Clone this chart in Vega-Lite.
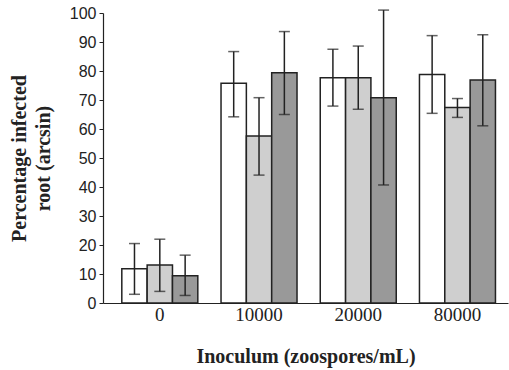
{
  "$schema": "https://vega.github.io/schema/vega-lite/v6.json",
  "width": 405,
  "height": 290,
  "autosize": {"type": "none"},
  "padding": {"left": 103, "top": 13, "right": 1, "bottom": 67},
  "background": "white",
  "config": {"view": {"stroke": null}},
  "data": {"values": [
    {"inoculum": "0", "s": "A", "mean": 11.8, "lo": 3.0, "hi": 20.5},
    {"inoculum": "0", "s": "B", "mean": 13.1, "lo": 4.0, "hi": 22.0},
    {"inoculum": "0", "s": "C", "mean": 9.4, "lo": 2.6, "hi": 16.5},
    {"inoculum": "10000", "s": "A", "mean": 75.8, "lo": 64.2, "hi": 86.7},
    {"inoculum": "10000", "s": "B", "mean": 57.6, "lo": 44.1, "hi": 70.8},
    {"inoculum": "10000", "s": "C", "mean": 79.4, "lo": 65.0, "hi": 93.6},
    {"inoculum": "20000", "s": "A", "mean": 77.7, "lo": 67.9, "hi": 87.5},
    {"inoculum": "20000", "s": "B", "mean": 77.7, "lo": 66.8, "hi": 88.6},
    {"inoculum": "20000", "s": "C", "mean": 70.8, "lo": 40.7, "hi": 101.0},
    {"inoculum": "80000", "s": "A", "mean": 78.8, "lo": 65.4, "hi": 92.2},
    {"inoculum": "80000", "s": "B", "mean": 67.4, "lo": 64.0, "hi": 70.5},
    {"inoculum": "80000", "s": "C", "mean": 76.9, "lo": 61.1, "hi": 92.5}
  ]},
  "encoding": {
    "x": {
      "field": "inoculum", "type": "nominal", "sort": ["0", "10000", "20000", "80000"],
      "scale": {"paddingInner": 0.234, "paddingOuter": 0.158, "align": 0.6},
      "axis": {
        "title": "Inoculum (zoospores/mL)", "labelAngle": 0, "ticks": false,
        "domainColor": "#222", "domainWidth": 1.2,
        "labelFont": "Liberation Serif", "labelFontSize": 19, "labelColor": "#222", "labelPadding": 2,
        "titleFont": "Liberation Serif", "titleFontSize": 20, "titleFontWeight": "bold", "titleColor": "#222", "titlePadding": 22
      }
    },
    "xOffset": {"field": "s", "type": "nominal", "scale": {"paddingInner": 0, "paddingOuter": 0}}
  },
  "layer": [
    {
      "mark": {"type": "bar", "stroke": "#222", "strokeWidth": 1.5},
      "encoding": {
        "y": {
          "field": "mean", "type": "quantitative",
          "scale": {"domain": [0, 100], "nice": false},
          "axis": {
            "title": ["Percentage infected", "root (arcsin)"], "values": [0,10,20,30,40,50,60,70,80,90,100],
            "labelOverlap": false,
            "grid": false, "domainColor": "#222", "domainWidth": 1.2, "tickColor": "#222", "tickSize": 4,
            "labelFont": "Liberation Sans", "labelFontSize": 16, "labelColor": "#222", "labelPadding": 3,
            "titleFont": "Liberation Serif", "titleFontSize": 20, "titleFontWeight": "bold", "titleColor": "#222",
            "titleLineHeight": 24, "titlePadding": 16
          }
        },
        "fill": {
          "field": "s", "type": "nominal", "legend": null,
          "scale": {"domain": ["A", "B", "C"], "range": ["#ffffff", "#cfcfcf", "#999999"]}
        }
      }
    },
    {
      "mark": {"type": "rule", "color": "#222", "strokeWidth": 1.5},
      "encoding": {
        "y": {"field": "lo", "type": "quantitative", "axis": {
            "title": ["Percentage infected", "root (arcsin)"], "values": [0,10,20,30,40,50,60,70,80,90,100],
            "labelOverlap": false,
            "grid": false, "domainColor": "#222", "domainWidth": 1.2, "tickColor": "#222", "tickSize": 4,
            "labelFont": "Liberation Sans", "labelFontSize": 16, "labelColor": "#222", "labelPadding": 3,
            "titleFont": "Liberation Serif", "titleFontSize": 20, "titleFontWeight": "bold", "titleColor": "#222",
            "titleLineHeight": 24, "titlePadding": 16
          }},
        "y2": {"field": "hi"}
      }
    },
    {
      "mark": {"type": "tick", "color": "#222", "thickness": 1.5, "size": 11, "orient": "horizontal"},
      "encoding": {"y": {"field": "lo", "type": "quantitative", "axis": {
            "title": ["Percentage infected", "root (arcsin)"], "values": [0,10,20,30,40,50,60,70,80,90,100],
            "labelOverlap": false,
            "grid": false, "domainColor": "#222", "domainWidth": 1.2, "tickColor": "#222", "tickSize": 4,
            "labelFont": "Liberation Sans", "labelFontSize": 16, "labelColor": "#222", "labelPadding": 3,
            "titleFont": "Liberation Serif", "titleFontSize": 20, "titleFontWeight": "bold", "titleColor": "#222",
            "titleLineHeight": 24, "titlePadding": 16
          }}}
    },
    {
      "mark": {"type": "tick", "color": "#222", "thickness": 1.5, "size": 11, "orient": "horizontal"},
      "encoding": {"y": {"field": "hi", "type": "quantitative", "axis": {
            "title": ["Percentage infected", "root (arcsin)"], "values": [0,10,20,30,40,50,60,70,80,90,100],
            "labelOverlap": false,
            "grid": false, "domainColor": "#222", "domainWidth": 1.2, "tickColor": "#222", "tickSize": 4,
            "labelFont": "Liberation Sans", "labelFontSize": 16, "labelColor": "#222", "labelPadding": 3,
            "titleFont": "Liberation Serif", "titleFontSize": 20, "titleFontWeight": "bold", "titleColor": "#222",
            "titleLineHeight": 24, "titlePadding": 16
          }}}
    }
  ]
}
